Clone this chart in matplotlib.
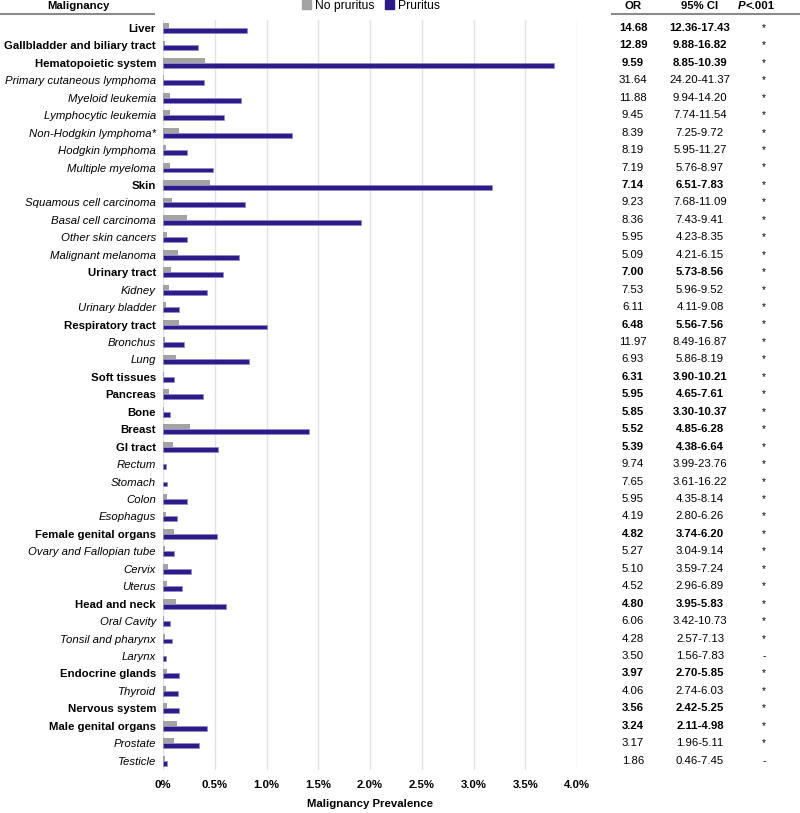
import matplotlib.pyplot as plt
import matplotlib.transforms as mtransforms
from matplotlib.patches import Patch
from matplotlib.lines import Line2D
import numpy as np

plt.rcParams['font.family'] = ['Liberation Sans', 'DejaVu Sans']

# malignancy rows, top to bottom (True = organ group, drawn in bold)
malignancy = [
    "Liver", "Gallbladder and biliary tract", "Hematopoietic system",
    "Primary cutaneous lymphoma", "Myeloid leukemia", "Lymphocytic leukemia",
    "Non-Hodgkin lymphoma*", "Hodgkin lymphoma", "Multiple myeloma",
    "Skin", "Squamous cell carcinoma", "Basal cell carcinoma",
    "Other skin cancers", "Malignant melanoma",
    "Urinary tract", "Kidney", "Urinary bladder",
    "Respiratory tract", "Bronchus", "Lung",
    "Soft tissues", "Pancreas", "Bone", "Breast",
    "GI tract", "Rectum", "Stomach", "Colon", "Esophagus",
    "Female genital organs", "Ovary and Fallopian tube", "Cervix", "Uterus",
    "Head and neck", "Oral Cavity", "Tonsil and pharynx", "Larynx",
    "Endocrine glands", "Thyroid", "Nervous system",
    "Male genital organs", "Prostate", "Testicle",
]
is_group = [
    True, True, True,
    False, False, False,
    False, False, False,
    True, False, False,
    False, False,
    True, False, False,
    True, False, False,
    True, True, True, True,
    True, False, False, False, False,
    True, False, False, False,
    True, False, False, False,
    True, False, True,
    True, False, False,
]

# prevalence in %
no_pruritus = [
    0.055, 0.02, 0.406,
    0.01, 0.063, 0.063,
    0.151, 0.026, 0.063,
    0.454, 0.089, 0.232,
    0.037, 0.148,
    0.081, 0.055, 0.026,
    0.155, 0.015, 0.122,
    0.011, 0.059, 0.011, 0.258,
    0.096, 0.004, 0.004, 0.037, 0.03,
    0.107, 0.018, 0.052, 0.04,
    0.125, 0.011, 0.018, 0.004,
    0.037, 0.03, 0.04,
    0.133, 0.111, 0.018,
]
pruritus = [
    0.815, 0.336, 3.775,
    0.40, 0.75, 0.59,
    1.251, 0.232, 0.48,
    3.177, 0.797, 1.911,
    0.232, 0.734,
    0.579, 0.428, 0.151,
    1.0, 0.199, 0.834,
    0.103, 0.384, 0.07, 1.41,
    0.535, 0.03, 0.04, 0.236, 0.14,
    0.52, 0.107, 0.266, 0.185,
    0.613, 0.07, 0.089, 0.033,
    0.151, 0.148, 0.151,
    0.424, 0.343, 0.037,
]

odds_ratio = [
    "14.68", "12.89", "9.59",
    "31.64", "11.88", "9.45",
    "8.39", "8.19", "7.19",
    "7.14", "9.23", "8.36",
    "5.95", "5.09",
    "7.00", "7.53", "6.11",
    "6.48", "11.97", "6.93",
    "6.31", "5.95", "5.85", "5.52",
    "5.39", "9.74", "7.65", "5.95", "4.19",
    "4.82", "5.27", "5.10", "4.52",
    "4.80", "6.06", "4.28", "3.50",
    "3.97", "4.06", "3.56",
    "3.24", "3.17", "1.86",
]
ci_95 = [
    "12.36-17.43", "9.88-16.82", "8.85-10.39",
    "24.20-41.37", "9.94-14.20", "7.74-11.54",
    "7.25-9.72", "5.95-11.27", "5.76-8.97",
    "6.51-7.83", "7.68-11.09", "7.43-9.41",
    "4.23-8.35", "4.21-6.15",
    "5.73-8.56", "5.96-9.52", "4.11-9.08",
    "5.56-7.56", "8.49-16.87", "5.86-8.19",
    "3.90-10.21", "4.65-7.61", "3.30-10.37", "4.85-6.28",
    "4.38-6.64", "3.99-23.76", "3.61-16.22", "4.35-8.14", "2.80-6.26",
    "3.74-6.20", "3.04-9.14", "3.59-7.24", "2.96-6.89",
    "3.95-5.83", "3.42-10.73", "2.57-7.13", "1.56-7.83",
    "2.70-5.85", "2.74-6.03", "2.42-5.25",
    "2.11-4.98", "1.96-5.11", "0.46-7.45",
]
p_flag = ["*"] * 36 + ["-"] + ["*"] * 5 + ["-"]

x_ticks = [0, 0.5, 1.0, 1.5, 2.0, 2.5, 3.0, 3.5, 4.0]
x_tick_labels = ["0%", "0.5%", "1.0%", "1.5%", "2.0%", "2.5%", "3.0%", "3.5%", "4.0%"]

grey = "#a3a3a3"
blue = "#2d1b88"
fs = 8.2

W, H = 800, 813
fig = plt.figure(figsize=(W / 100, H / 100), dpi=100)
# axes in pixels: x 163..577, y 20..770
ax = fig.add_axes([163 / W, 1 - 770 / H, (577 - 163) / W, (770 - 20) / H])

y = np.arange(len(malignancy))
bh = 0.28
ax.barh(y - bh / 2, no_pruritus, height=bh, color=grey, label="No pruritus", zorder=3)
ax.barh(y + bh / 2, pruritus, height=bh, color=blue, edgecolor="#9088cc",
        linewidth=0.5, label="Pruritus", zorder=3)

ax.set_ylim(len(malignancy) - 1 + 0.533, -0.459)
ax.set_xlim(0, 4.0)
ax.set_xticks(x_ticks)
ax.set_xticklabels(x_tick_labels, fontsize=fs, fontweight="bold")
ax.set_yticks(y)
ax.set_yticklabels(malignancy, fontsize=fs)
for lbl, grp in zip(ax.get_yticklabels(), is_group):
    if grp:
        lbl.set_fontweight("bold")
    else:
        lbl.set_fontstyle("italic")
ax.tick_params(axis="both", length=0)
ax.tick_params(axis="y", pad=5)
ax.tick_params(axis="x", pad=7)
ax.set_xlabel("Malignancy Prevalence", fontsize=fs, fontweight="bold", labelpad=7)
ax.grid(axis="x", color="#e2e2e2", linewidth=1, zorder=0)
for s in ax.spines.values():
    s.set_visible(False)

# table columns on the right
tr = mtransforms.blended_transform_factory(fig.transFigure, ax.transData)
for i in range(len(malignancy)):
    w = "bold" if is_group[i] else "normal"
    ax.text(633 / W, y[i], odds_ratio[i], transform=tr, ha="center", va="center",
            fontsize=fs, fontweight=w)
    ax.text(700 / W, y[i], ci_95[i], transform=tr, ha="center", va="center",
            fontsize=fs, fontweight=w)
    ax.text(764 / W, y[i], p_flag[i], transform=tr, ha="center", va="center",
            fontsize=fs - 1)

# headers
hy = 1 - 6 / H
fig.text(78 / W, hy, "Malignancy", ha="center", va="center", fontsize=fs, fontweight="bold")
fig.text(633 / W, hy, "OR", ha="center", va="center", fontsize=fs, fontweight="bold")
fig.text(700 / W, hy, "95% CI", ha="center", va="center", fontsize=fs, fontweight="bold")
fig.text(745 / W, hy, "P", ha="right", va="center", fontsize=fs, fontweight="bold",
         fontstyle="italic")
fig.text(746 / W, hy, "<.001", ha="left", va="center", fontsize=fs, fontweight="bold")
ly = 1 - 14 / H
fig.add_artist(Line2D([0, 154 / W], [ly, ly], transform=fig.transFigure, color="#8a8a8a", lw=1.5))
fig.add_artist(Line2D([612 / W, 1], [ly, ly], transform=fig.transFigure, color="#8a8a8a", lw=1.5))

# legend
handles = [Patch(color=grey), Patch(color=blue)]
fig.legend(handles, ["No pruritus", "Pruritus"], loc="center", bbox_to_anchor=(371 / W, 1 - 6 / H),
           ncol=2, frameon=False, fontsize=fs + 0.5, handlelength=0.75, handleheight=0.75,
           handletextpad=0.35, columnspacing=0.9, borderpad=0, borderaxespad=0)

fig.savefig("out.png", dpi=100)
